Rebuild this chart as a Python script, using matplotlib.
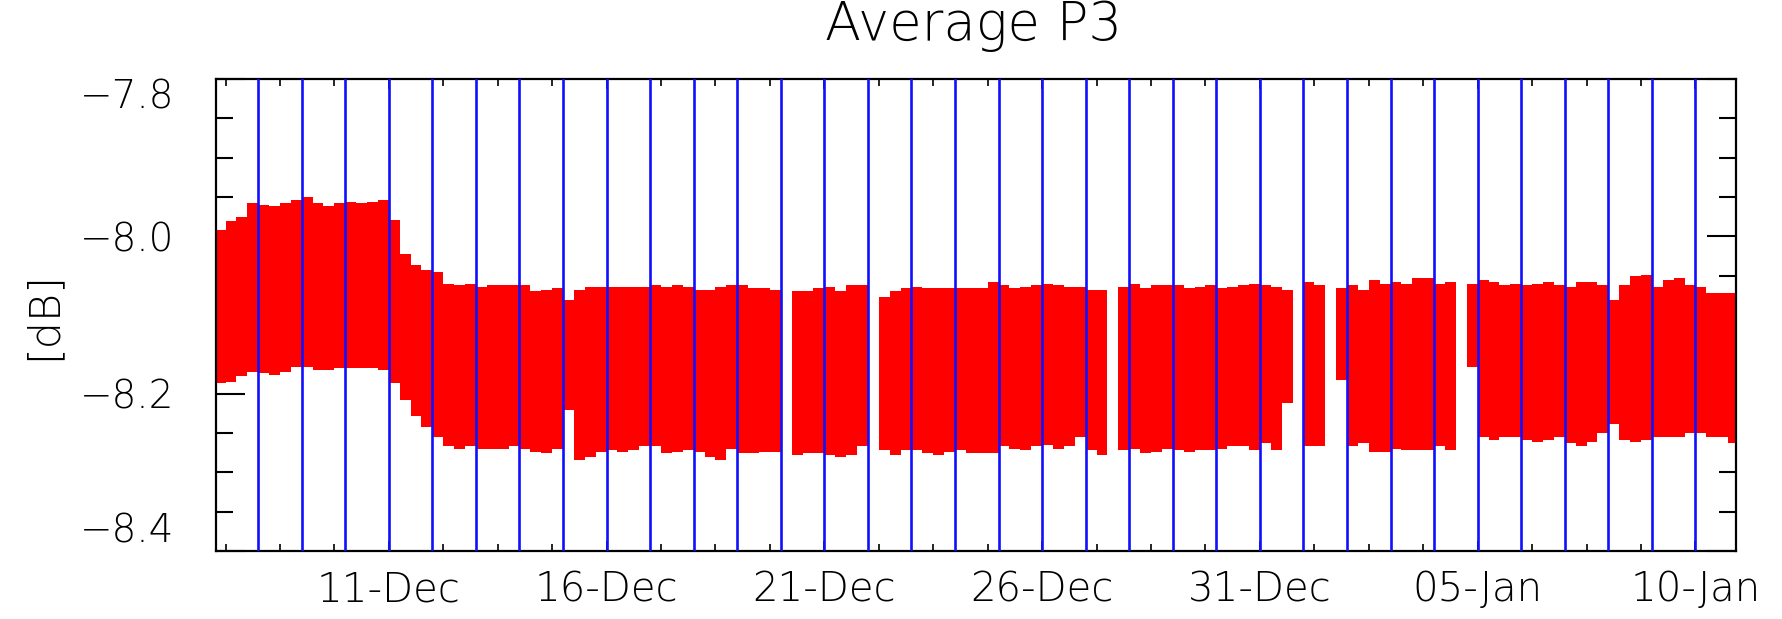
import numpy as np
import matplotlib
matplotlib.use('Agg')
import matplotlib.pyplot as plt
import matplotlib.dates as mdates
from matplotlib.ticker import FixedLocator, MultipleLocator, FuncFormatter
import datetime as dt

# time base: 6-hour bins starting 07-Dec 00:00
start = dt.datetime(2014, 12, 7)
bin_days = 0.25

# upper / lower envelope of the P3 samples in each bin [dB] (nan = no data)
top_db = [
    -7.992, -7.981, -7.975, -7.958, -7.960, -7.962, -7.958, -7.954, -7.950, -7.958,
    -7.962, -7.958, -7.956, -7.958, -7.956, -7.954, -7.979, -8.022, -8.036, -8.043,
    -8.045, -8.060, -8.062, -8.060, -8.064, -8.062, -8.062, -8.062, -8.062, -8.070,
    -8.068, -8.066, -8.081, -8.068, -8.064, -8.064, -8.064, -8.064, -8.064, -8.064,
    -8.062, -8.064, -8.062, -8.064, -8.068, -8.068, -8.064, -8.062, -8.062, -8.066,
    -8.066, -8.068, np.nan, -8.070, -8.070, -8.066, -8.064, -8.070, -8.062, -8.062,
    np.nan, -8.077, -8.070, -8.066, -8.064, -8.066, -8.066, -8.066, -8.066, -8.066,
    -8.066, -8.058, -8.062, -8.066, -8.064, -8.062, -8.060, -8.062, -8.064, -8.064,
    -8.068, -8.068, np.nan, -8.064, -8.060, -8.066, -8.062, -8.062, -8.062, -8.066,
    -8.064, -8.062, -8.066, -8.064, -8.062, -8.060, -8.062, -8.064, -8.068, np.nan,
    -8.058, -8.062, np.nan, -8.066, -8.062, -8.068, -8.055, -8.060, -8.058, -8.060,
    -8.053, -8.053, -8.060, -8.058, np.nan, -8.060, -8.055, -8.058, -8.062, -8.060,
    -8.062, -8.060, -8.058, -8.062, -8.064, -8.058, -8.058, -8.062, -8.081, -8.062,
    -8.051, -8.049, -8.064, -8.055, -8.053, -8.062, -8.064, -8.072, -8.072, -8.072,
]
bot_db = [
    -8.187, -8.185, -8.178, -8.172, -8.174, -8.176, -8.172, -8.166, -8.166, -8.170,
    -8.170, -8.168, -8.168, -8.168, -8.168, -8.170, -8.187, -8.208, -8.229, -8.242,
    -8.255, -8.267, -8.270, -8.267, -8.270, -8.270, -8.270, -8.267, -8.270, -8.274,
    -8.276, -8.270, -8.221, -8.284, -8.280, -8.274, -8.272, -8.274, -8.272, -8.267,
    -8.267, -8.276, -8.274, -8.272, -8.274, -8.280, -8.284, -8.270, -8.276, -8.276,
    -8.274, -8.274, np.nan, -8.278, -8.276, -8.276, -8.278, -8.280, -8.278, -8.267,
    np.nan, -8.272, -8.278, -8.272, -8.272, -8.276, -8.278, -8.274, -8.272, -8.276,
    -8.276, -8.276, -8.267, -8.270, -8.272, -8.267, -8.265, -8.270, -8.267, -8.255,
    -8.272, -8.278, np.nan, -8.272, -8.270, -8.276, -8.274, -8.270, -8.272, -8.274,
    -8.272, -8.272, -8.270, -8.267, -8.267, -8.272, -8.263, -8.272, -8.212, np.nan,
    -8.267, -8.267, np.nan, -8.183, -8.267, -8.263, -8.274, -8.274, -8.270, -8.272,
    -8.272, -8.272, -8.267, -8.272, np.nan, -8.166, -8.255, -8.259, -8.255, -8.255,
    -8.259, -8.261, -8.259, -8.255, -8.263, -8.267, -8.261, -8.250, -8.238, -8.259,
    -8.261, -8.259, -8.255, -8.255, -8.255, -8.250, -8.250, -8.255, -8.255, -8.263,
]

# day markers (midnight), as day index after start
marker_days = list(range(1, 35))

xtick_dates = [dt.datetime(2014, 12, 11), dt.datetime(2014, 12, 16), dt.datetime(2014, 12, 21),
               dt.datetime(2014, 12, 26), dt.datetime(2014, 12, 31), dt.datetime(2015, 1, 5),
               dt.datetime(2015, 1, 10)]
yticks = [-8.4, -8.2, -8.0, -7.8]

top = np.array(top_db)
bot = np.array(bot_db)
x0 = mdates.date2num(start)
xs = x0 + np.arange(len(top)) * bin_days
ok = ~np.isnan(top)

plt.rcParams['font.family'] = ['DejaVu Sans']

fig = plt.figure(figsize=(17.83, 6.19), dpi=100)
ax = fig.add_axes([0.1211, 0.1099, 0.8525, 0.7625])

ax.bar(xs[ok], top[ok] - bot[ok], bottom=bot[ok], width=bin_days, align='edge',
       color='red', linewidth=0, zorder=2)
for d in marker_days:
    ax.axvline(x0 + d, color='#1010ff', lw=1.9, zorder=3)

ax.set_xlim(x0 + 0.03, x0 + 34.93)
ax.set_ylim(-8.4, -7.8)

ax.xaxis.set_major_locator(FixedLocator(mdates.date2num(xtick_dates)))
ax.xaxis.set_minor_locator(FixedLocator(x0 + 0.25 + 1.25 * np.arange(28)))
ax.xaxis.set_major_formatter(mdates.DateFormatter('%d-%b'))
ax.set_yticks(yticks)
ax.yaxis.set_minor_locator(MultipleLocator(0.05))
ax.yaxis.set_major_formatter(FuncFormatter(lambda v, p: ('%.1f' % v).replace('-', '\u2212')))

ax.tick_params(axis='x', which='both', direction='in', top=True, bottom=True,
               labelsize=29, pad=14, width=1.2, color='black')
ax.tick_params(axis='x', which='major', length=7)
ax.tick_params(axis='x', which='minor', length=5)
ax.tick_params(axis='y', which='both', direction='in', left=True, right=True,
               labelsize=28, pad=30, width=1.5)
ax.tick_params(axis='y', which='major', length=21)
ax.tick_params(axis='y', which='minor', length=12)
for s in ax.spines.values():
    s.set_linewidth(1.6)
for lab in ax.get_xticklabels() + ax.get_yticklabels():
    lab.set_fontweight('light')

ylabs = ax.get_yticklabels()
ylabs[0].set_va('bottom')
ylabs[-1].set_va('top')

fig.text(0.546, 0.935, 'Average P3', ha='center', va='baseline', fontsize=38,
         fontweight='light')
fig.text(0.024, 0.491, '[dB]', ha='center', va='center', rotation=90, fontsize=31,
         fontweight='light')

fig.savefig('out.png', dpi=100)
